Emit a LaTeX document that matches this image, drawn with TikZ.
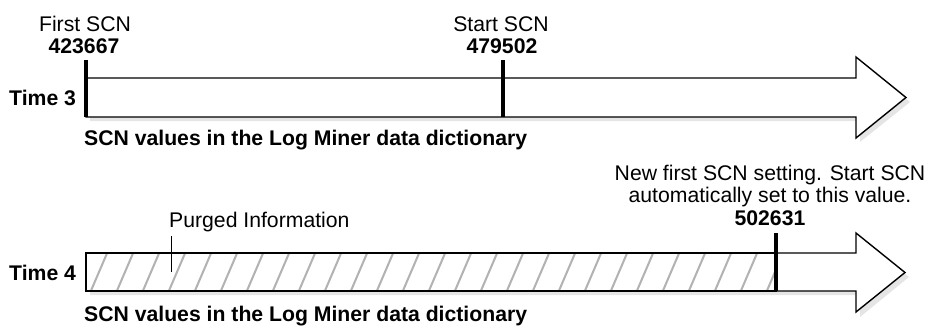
\documentclass[tikz,border=0pt]{standalone}
\usepackage{fontspec}
\setmainfont{Liberation Sans}
\begin{document}
\begin{tikzpicture}[x=1pt,y=-1pt,
  txt/.style={inner sep=0pt,font=\fontsize{21.2}{23}\selectfont},
  btxt/.style={inner sep=0pt,font=\fontsize{21.2}{23}\selectfont\bfseries},
  arrowline/.style={draw=black,line width=1.4pt,fill=white,line join=miter},
  shadowfill/.style={fill=black!10,draw=none},
  tick/.style={line width=4pt},
  hatchline/.style={draw=black!30,line width=2pt},
  leader/.style={line width=0.8pt}]
\useasboundingbox (0,0) rectangle (927,327);
% ---------- Time 3 ----------
\fill[shadowfill] (90,82) -- (860,82) -- (860,61) -- (910,102) -- (860,142) -- (860,121) -- (90,121) -- cycle;
\draw[arrowline] (86,78) -- (856,78) -- (856,57) -- (906,97.5) -- (856,138) -- (856,117) -- (86,117) -- cycle;
\coordinate (a3top) at (86,60);
\coordinate (a3bot) at (86,117);
\draw[tick] (a3top) -- (a3bot);
\coordinate (s3top) at (503,60);
\coordinate (s3bot) at (503,117);
\draw[tick] (s3top) -- (s3bot);
\node[txt] (firstlbl) at (85,24) {First SCN};
\node[btxt] (firstnum) at (84,46) {423667};
\node[txt] (startlbl) at (501,24) {Start SCN};
\node[btxt] (startnum) at (502,46) {479502};
\node[btxt,anchor=west] (time3) at (9,97.5) {Time 3};
\node[btxt,anchor=west] (cap3) at (84,140) {SCN values in the Log Miner data dictionary};
% ---------- Time 4 ----------
\fill[shadowfill] (90,257) -- (860,257) -- (860,237) -- (909,277) -- (860,317) -- (860,295) -- (90,295) -- cycle;
\draw[arrowline] (86,253) -- (856,253) -- (856,233) -- (905,272.5) -- (856,312) -- (856,291) -- (86,291) -- cycle;
\begin{scope}
  \clip (86,253) rectangle (776,291);
  \foreach \i in {0,...,28} {
    \draw[hatchline] (90+26*\i,293) -- (108+26*\i,251);
  }
\end{scope}
\draw[line width=1.4pt] (86,253) rectangle (776,291);
\coordinate (n4top) at (776,233);
\coordinate (n4bot) at (776,291);
\draw[tick] (n4top) -- (n4bot);
\node[txt,align=center,anchor=south] (newlbl) at (770,207) {New first SCN setting. Start SCN\\[-1.5pt]automatically set to this value.};
\node[btxt] (newnum) at (770,218) {502631};
\node[txt,anchor=west] (purged) at (169,222) {Purged Information};
\coordinate (purgedend) at (171,272);
\draw[leader] (171,236) -- (purgedend);
\node[btxt,anchor=west] (time4) at (9,272.5) {Time 4};
\node[btxt,anchor=west] (cap4) at (84,316) {SCN values in the Log Miner data dictionary};
\end{tikzpicture}
\end{document}
